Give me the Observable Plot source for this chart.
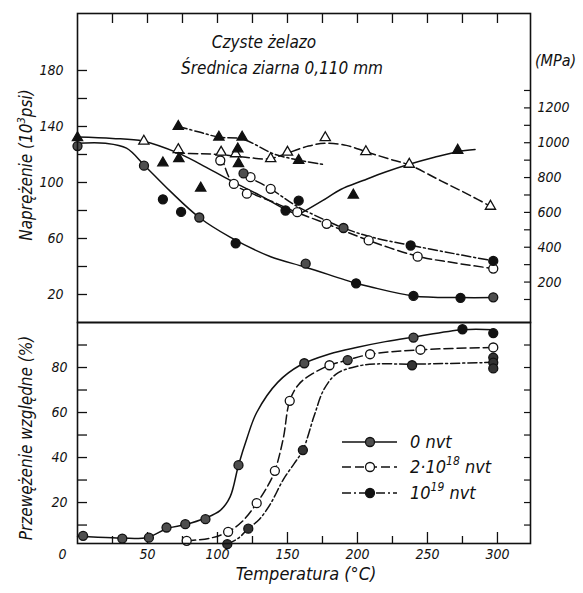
<!DOCTYPE html>
<html><head><meta charset="utf-8">
<script src="https://cdn.jsdelivr.net/npm/d3@7"></script>
<script src="https://cdn.jsdelivr.net/npm/@observablehq/plot@0.6"></script>
<style>
body{margin:0;background:#fff}
#wrap{position:relative;width:583px;height:593px;overflow:hidden;background:#fff}
#wrap svg{position:absolute;left:0}
</style></head><body><div id="wrap"></div>
<script>
const FONT = '"Liberation Sans Narrow","DejaVu Sans Condensed","Roboto",sans-serif';

// ---------- Top panel: stress (10^3 psi) vs temperature (°C) ----------
// markers by symbol
const topHatchT = [0, 47.5, 87, 118.6, 163, 190, 297];
const topHatchS = [126, 112, 75, 106.5, 42, 67.5, 18];
const topFillCT = [61, 74, 113, 148.6, 158, 199, 238, 240, 273.6, 297];
const topFillCS = [88, 79, 56.6, 80, 87, 28, 55, 19, 17.6, 44];
const topOpenCT = [102, 111.7, 121, 123.6, 138, 157, 178, 208, 243, 297];
const topOpenCS = [115.7, 99, 92, 103.8, 95.5, 78.8, 70.5, 58.6, 47, 38.5];
const topOpenTT = [47.4, 72, 102.6, 113, 138, 150, 177, 206, 237, 295];
const topOpenTS = [129.5, 123.5, 121.6, 120.5, 117, 121.6, 132, 122, 113, 83];
const topFillTT = [0, 61, 72, 72.4, 88, 101, 114.5, 115, 117.6, 158, 197, 271.6];
const topFillTS = [132, 114, 140, 117, 96, 132.4, 124, 113.5, 132.4, 115.7, 91, 123];
// curves
const curveA_T = [0, 20, 35, 48, 66, 87, 109, 138, 163, 199, 209, 240, 273, 297];
const curveA_S = [128, 128, 124.5, 112, 94, 75, 61, 47, 39.5, 28, 25.5, 19, 17.8, 17.8];
const curveB1_T = [0, 25, 47, 72, 88, 110, 130, 150, 158];
const curveB1_S = [132.5, 131.5, 129.5, 121, 113, 101, 91, 80, 77];
const curveB2_T = [158, 175, 188, 204, 220, 237, 255, 271.6, 284];
const curveB2_S = [77, 87, 95, 101.4, 107.5, 113, 118, 122, 123.5];
const curveC_T = [70, 88, 102, 120, 137, 150, 165, 177, 192, 206, 222, 237, 260, 280, 295];
const curveC_S = [121, 120.5, 120, 118, 117, 121, 126, 128, 126.5, 122, 117, 112.5, 101, 91, 83];
const curveD_T = [72, 87, 101, 118, 140, 158, 175];
const curveD_S = [140, 136, 132.4, 131, 120.5, 116, 113];
const curveE_T = [103, 110.5, 125, 140, 157, 178, 208, 243, 270, 297];
const curveE_S = [119, 100, 92, 86, 78.5, 70.5, 58.6, 47.3, 42.5, 38.5];
const curveF_T = [117, 124, 138, 155, 175, 190, 210, 239, 270, 297];
const curveF_S = [107, 103, 95.5, 84, 74, 67.5, 61, 55, 49, 44];
// axes
const topYTicks = [20, 40, 60, 80, 100, 120, 140, 160, 180];
const topYLabels = [20, 60, 100, 140, 180];
const xTicks = [25, 50, 75, 100, 125, 150, 175, 200, 225, 250, 275, 300];
const xMajor = [50, 100, 150, 200, 250, 300];
const xMinor = [25, 75, 125, 175, 225, 275];
const mpaTicks = [100, 200, 300, 400, 500, 600, 700, 800, 900, 1000, 1100, 1200, 1300];
const mpaLabels = [200, 400, 600, 800, 1000, 1200];
// MPa scale as printed on the original (calibrated against the psi axis)
const mpaOffset = 4.0, ksiPerMpaPrinted = 0.1244;
const mpaToKsi = m => mpaOffset + ksiPerMpaPrinted * m;

// ---------- Bottom panel: reduction of area (%) ----------
const botHatchT = [4, 32, 51, 63.6, 77, 91.4, 115, 162, 193, 240];
const botHatchP = [5.2, 4, 4.4, 8.9, 10.4, 12.6, 36.6, 81.9, 83.3, 93.3];
const botFillT = [275, 297];
const botFillP = [97, 95.3];
const botOpenT = [78, 107.6, 128, 141, 151.6, 180, 209, 245, 297];
const botOpenP = [3.0, 7.0, 19.7, 34.1, 65.2, 81, 85.9, 87.9, 88.9];
const bot19T = [107, 122, 161, 239, 297, 297, 297];
const bot19P = [1.5, 8.4, 43.3, 81, 84.4, 82.2, 79.6];
const c0T = [0, 25, 50, 64, 77, 91, 102, 109, 115, 121, 128, 143, 159, 180, 200, 220, 240, 275, 297];
const c0P = [5, 4.4, 4.5, 8.5, 10.2, 13, 16.5, 22.5, 36.6, 48.5, 60, 73.4, 81, 86, 89, 91.5, 93.5, 96.8, 96.8];
const c1T = [78, 95, 107.6, 118, 128, 136, 141, 147, 151.6, 158, 168, 180, 193, 209, 245, 297];
const c1P = [3, 4.2, 7, 11.8, 19.7, 27.5, 34.1, 48.5, 65.2, 72.5, 77.3, 81, 83.3, 85.9, 87.9, 88.9];
const c2T = [107, 115, 122, 130, 138, 147, 155, 161, 169, 176, 185, 200, 214, 239, 297];
const c2P = [1.5, 4.2, 8.4, 12.6, 19.6, 30.2, 37.5, 43.3, 58.4, 70.2, 77.2, 80.6, 81.6, 81.5, 82.3];
const botYTicks = [10, 20, 30, 40, 50, 60, 70, 80, 90];
const botYLabels = [20, 40, 60, 80];
const xLabels = [50, 100, 150, 200, 250, 300];
const xZero = [0];

const zip = (xs, ys) => xs.map((x, i) => ({x, y: ys[i]}));
const DASH = "9,4", DASHDOT = "9,3,2,3";
const HATCH = "#4e4e4e";
const style = {fontFamily: FONT, fontSize: "14px", fontStyle: "italic", background: "transparent", overflow: "visible", color: "#111"};

const W = 583, ML = 77, MR = 53, IW = W - ML - MR;
const dotOpts = (fill, symbol = "circle", r = 4.5) => ({x: "x", y: "y", r, fill, stroke: "#111", strokeWidth: 1.3, symbol});
const lineOpts = (dash) => ({x: "x", y: "y", curve: "catmull-rom", stroke: "#111", strokeWidth: 1.5, strokeDasharray: dash});

const topH = 323, topMT = 13, topMB = 1, topIH = topH - topMT - topMB;
const topPlot = Plot.plot({
  width: W, height: topH, marginTop: topMT, marginBottom: topMB, marginLeft: ML, marginRight: MR,
  x: {domain: [0, 323.6], axis: null},
  y: {domain: [0, 220.7], axis: null},
  style,
  marks: [
    Plot.ruleY(topYTicks, {y: d => d, insetRight: IW - 10, stroke: "#111", strokeWidth: 1.3}),
    Plot.ruleX(xTicks, {x: d => d, insetBottom: topIH - 10, stroke: "#111", strokeWidth: 1.3}),
    Plot.ruleY(mpaTicks, {y: mpaToKsi, insetLeft: IW - 6, stroke: "#111", strokeWidth: 1.2}),
    Plot.text(topYLabels, {y: d => d, frameAnchor: "left", dx: -14, textAnchor: "end", text: d => String(d), fontSize: 14, fill: "#111"}),
    Plot.text(mpaLabels, {y: mpaToKsi, frameAnchor: "right", dx: 7, textAnchor: "start", text: d => String(d), fontSize: 14, fill: "#111"}),
    Plot.line(zip(curveA_T, curveA_S), lineOpts(null)),
    Plot.line(zip(curveB1_T, curveB1_S), lineOpts(null)),
    Plot.line(zip(curveB2_T, curveB2_S), lineOpts(null)),
    Plot.line(zip(curveC_T, curveC_S), lineOpts(DASH)),
    Plot.line(zip(curveD_T, curveD_S), lineOpts(DASHDOT)),
    Plot.line(zip(curveE_T, curveE_S), lineOpts(DASH)),
    Plot.line(zip(curveF_T, curveF_S), lineOpts(DASHDOT)),
    Plot.dot(zip(topOpenTT, topOpenTS), dotOpts("white", "triangle", 3.8)),
    Plot.dot(zip(topFillTT, topFillTS), dotOpts("#111", "triangle", 3.8)),
    Plot.dot(zip(topOpenCT, topOpenCS), dotOpts("white")),
    Plot.dot(zip(topHatchT, topHatchS), dotOpts(HATCH)),
    Plot.dot(zip(topFillCT, topFillCS), dotOpts("#111")),
    Plot.frame({stroke: "#111", strokeWidth: 1.6})
  ]
});

const botH = 271, botMT = 0, botMB = 50, botIH = botH - botMT - botMB;
const botPlot = Plot.plot({
  width: W, height: botH, marginTop: botMT, marginBottom: botMB, marginLeft: ML, marginRight: MR,
  x: {domain: [0, 323.6], axis: null},
  y: {domain: [1.8, 100], axis: null},
  style,
  marks: [
    Plot.ruleY(botYTicks, {y: d => d, insetRight: IW - 10, stroke: "#111", strokeWidth: 1.3}),
    Plot.ruleY(botYTicks, {y: d => d, insetLeft: IW - 6, stroke: "#111", strokeWidth: 1.2}),
    Plot.ruleX(xMajor, {x: d => d, insetTop: botIH - 11, stroke: "#111", strokeWidth: 1.3}),
    Plot.ruleX(xMinor, {x: d => d, insetTop: botIH - 7, stroke: "#111", strokeWidth: 1.3}),
    Plot.text(botYLabels, {y: d => d, frameAnchor: "left", dx: -10, textAnchor: "end", text: d => String(d), fontSize: 14, fill: "#111"}),
    Plot.text(xLabels, {x: d => d, frameAnchor: "bottom", dy: 15, text: d => String(d), fontSize: 14, fill: "#111"}),
    Plot.text(xZero, {x: d => d, frameAnchor: "bottom", dy: 15, dx: -15, text: d => String(d), fontSize: 14, fill: "#111"}),
    Plot.line(zip(c0T, c0P), lineOpts(null)),
    Plot.line(zip(c1T, c1P), lineOpts(DASH)),
    Plot.line(zip(c2T, c2P), lineOpts(DASHDOT)),
    Plot.dot(zip(botOpenT, botOpenP), dotOpts("white")),
    Plot.dot(zip(botHatchT, botHatchP), dotOpts(HATCH)),
    Plot.dot(zip(bot19T, bot19P), dotOpts("#333")),
    Plot.dot(zip(botFillT, botFillP), dotOpts("#111")),
    Plot.frame({stroke: "#111", strokeWidth: 1.6})
  ]
});

const wrap = document.getElementById("wrap");
topPlot.style.top = "0px";
botPlot.style.top = "322px";
wrap.appendChild(topPlot);
wrap.appendChild(botPlot);

// ---------- overlay: titles, axis titles, legend ----------
const ov = d3.select(wrap).append("svg")
  .attr("width", W).attr("height", 593)
  .style("top", "0px").style("pointer-events", "none")
  .style("font-family", FONT).style("font-style", "italic").attr("fill", "#111");

ov.append("text").attr("x", 264).attr("y", 48).attr("text-anchor", "middle").attr("font-size", 17).text("Czyste żelazo");
ov.append("text").attr("x", 282).attr("y", 74).attr("text-anchor", "middle").attr("font-size", 17).text("Średnica ziarna 0,110 mm");

const yl1 = ov.append("text").attr("transform", "translate(32,165) rotate(-90)").attr("text-anchor", "middle").attr("font-size", 17);
yl1.append("tspan").text("Naprężenie (10");
yl1.append("tspan").attr("dy", -7).attr("font-size", 11).text("3");
yl1.append("tspan").attr("dy", 7).text("psi)");

ov.append("text").attr("transform", "translate(32,438) rotate(-90)").attr("text-anchor", "middle").attr("font-size", 17).text("Przewężenie względne (%)");
ov.append("text").attr("x", 306).attr("y", 580).attr("text-anchor", "middle").attr("font-size", 18).text("Temperatura (°C)");
ov.append("text").attr("x", 535).attr("y", 66).attr("font-size", 16).text("(MPa)");

const legend = [
  {y: 442, dash: null, fill: HATCH, parts: [["0 nvt"]]},
  {y: 467, dash: DASH, fill: "white", parts: [["2·10"], ["18", true], [" nvt"]]},
  {y: 493, dash: DASHDOT, fill: "#111", parts: [["10"], ["19", true], [" nvt"]]}
];
legend.forEach(l => {
  ov.append("line").attr("x1", 342).attr("x2", 397).attr("y1", l.y).attr("y2", l.y)
    .attr("stroke", "#111").attr("stroke-width", 1.5).attr("stroke-dasharray", l.dash);
  ov.append("circle").attr("cx", 370).attr("cy", l.y).attr("r", 4.5).attr("fill", l.fill).attr("stroke", "#111").attr("stroke-width", 1.3);
  const t = ov.append("text").attr("x", 410).attr("y", l.y + 6).attr("font-size", 18);
  let sup = false;
  l.parts.forEach(([s, isSup]) => {
    const ts = t.append("tspan").text(s);
    if (isSup && !sup) { ts.attr("dy", -8).attr("font-size", 12); sup = true; }
    else if (!isSup && sup) { ts.attr("dy", 8); sup = false; }
  });
});
</script>
</body></html>
